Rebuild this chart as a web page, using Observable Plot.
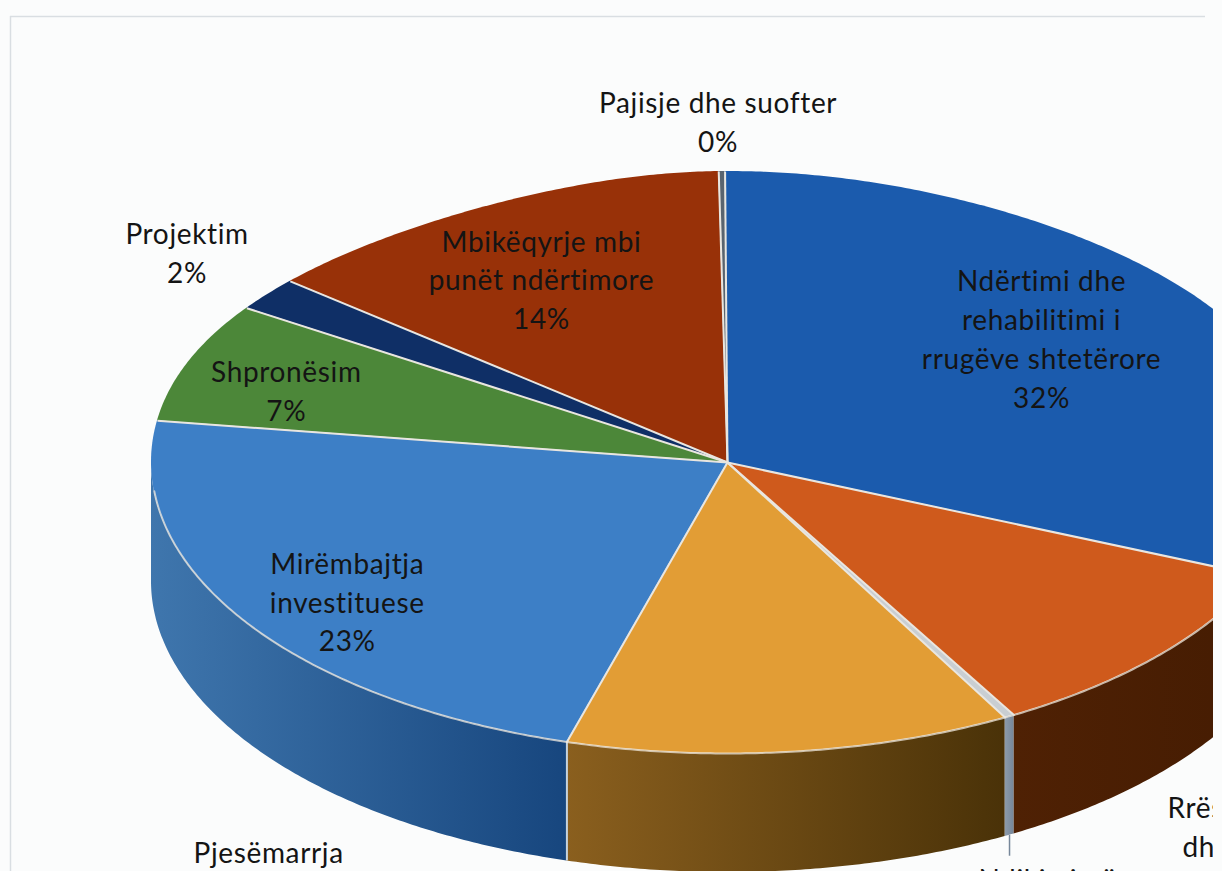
<!DOCTYPE html>
<html>
<head>
<meta charset="utf-8">
<script src="https://cdn.jsdelivr.net/npm/d3@7"></script>
<script src="https://cdn.jsdelivr.net/npm/@observablehq/plot@0.6"></script>
<style>
html,body{margin:0;padding:0;background:#fbfcfc;overflow:hidden}
svg{display:block}
</style>
</head>
<body>
<div id="chart"></div>
<script>
// Slice data, clockwise from twelve o'clock
const names = ["Ndërtimi dhe rehabilitimi i rrugëve shtetërore","Rrëshqitje","Ndikimi në","Pjesëmarrja","Mirëmbajtja investituese","Shpronësim","Projektim","Mbikëqyrje mbi punët ndërtimore","Pajisje dhe suofter"];
const shares = [31.45, 10.35, 0.28, 12.5, 22.8, 6.6, 1.8, 14, 0.22];
const topColors = ["#1b5bad","#cf5a1c","#c9ced2","#e29d35","#3d7fc6","#4c8739","#0f2f66","#983108","#59646f"];
const wallLeft  = ["#1b4a8c","#4f2104","#8d9bab","#8a5f1e","#3f76ad","#35602a","#0b214a","#6a2306","#6f7d8c"];
const wallRight = ["#1b4a8c","#451c02","#76879a","#4a3208","#17467e","#35602a","#0b214a","#6a2306","#6f7d8c"];

// Text labels
const labelLines = ["Ndërtimi dhe\nrehabilitimi i\nrrugëve shtetërore\n32%","Mbikëqyrje mbi\npunët ndërtimore\n14%","Shpronësim\n7%","Mirëmbajtja\ninvestituese\n23%","Projektim\n2%","Pajisje dhe suofter\n0%"];
// polar placement: degrees clockwise from top, radius as fraction of the pie
const labelAngle = [52.2, 332.7, 287.7, 233.9, 307.4, 359.2];
const labelRadius = [0.69, 0.704, 0.804, 0.817, 1.181, 1.168];
const cutMiddleLabels = ["Pjesëmarrja"];
const cutStartLabels = ["Rrës","dh","Ndikimi në"];
const cutStartDx = [440, 455, 251];
const cutStartDy = [347, 386, 419];

// Pie geometry, in the plot's own units
const W = 1222, H = 871, cropX = 1213;
const pie = {cx: 727, cy: 462, rx: 576, ry: 291, depth: 119, start: -0.3, farLeft: 0.2, farRight: 0.1};
const polar = (deg, r = 1) => {
  const t = deg * Math.PI / 180;
  return [pie.cx + pie.rx * r * Math.sin(t), pie.cy - pie.ry * r * Math.cos(t)];
};
// The far half of the disc recedes, so its rim pulls in a little
const rim = deg => {
  const t = deg * Math.PI / 180, s = Math.sin(t), c = Math.cos(t);
  const f = c > 0 ? 1 - (s < 0 ? pie.farLeft : pie.farRight) * c ** 4 : 1;
  return [pie.cx + pie.rx * s * f, pie.cy - pie.ry * c];
};

const total = d3.sum(shares);
let acc = 0;
const slices = shares.map((v, i) => {
  const a0 = pie.start + acc / total * 360; acc += v;
  return {i, name: names[i], a0, a1: pie.start + acc / total * 360};
});

// Top faces: each is an area swept from the centre to the rim
const topPts = slices.flatMap(s => {
  const n = Math.max(2, Math.ceil((s.a1 - s.a0) / 0.5));
  return d3.range(n + 1).map(k => {
    const [x, y] = rim(s.a0 + (s.a1 - s.a0) * k / n);
    return {slice: s.i, x, y};
  });
});

// Visible wall of each slice
const wallPts = slices.flatMap(s => {
  const a0 = Math.max(s.a0, 90), a1 = Math.min(s.a1, 270);
  if (a1 <= a0) return [];
  const n = Math.max(2, Math.ceil((a1 - a0) / 0.5));
  return d3.range(n + 1).map(k => {
    const [x, y] = polar(a0 + (a1 - a0) * k / n);
    return {slice: s.i, x, y, y2: y + pie.depth};
  });
});
const wallSlices = slices.filter(s => wallPts.some(p => p.slice === s.i));

// Horizontal shading of the walls
function wallGradients() {
  const g = d3.create("svg:g");
  const defs = g.append("defs");
  wallSlices.forEach(s => {
    const lg = defs.append("linearGradient").attr("id", "wall" + s.i).attr("x1", 0).attr("x2", 1).attr("y1", 0).attr("y2", 0);
    lg.append("stop").attr("offset", 0).attr("stop-color", wallLeft[s.i]);
    lg.append("stop").attr("offset", 1).attr("stop-color", wallRight[s.i]);
  });
  return g.node();
}

// Edges on the wall between neighbouring slices
const seams = slices.map(s => s.a1).filter(a => a > 180 && a < 270).map(a => {
  const [x, y] = polar(a);
  return {x, y, y2: y + pie.depth};
});

// Thin slice's leader line
const thin = slices[2];
const [leadX, leadY] = polar((thin.a0 + thin.a1) / 2);

const labels = labelLines.map((t, i) => {
  const [x, y] = polar(labelAngle[i], labelRadius[i]);
  return {t, x, y};
});
const cutMiddle = cutMiddleLabels.map(t => {
  const [x, y] = polar(210.6, 1.565);
  return {t, x, y};
});
const cutStart = cutStartLabels.map((t, i) => ({t, x: pie.cx + cutStartDx[i], y: pie.cy + cutStartDy[i]}));

const font = "Lato, 'Noto Sans', sans-serif";
const textStyle = {text: "t", fontSize: 28, fill: "#141414", fontFamily: font};

const chart = Plot.plot({
  width: W, height: H,
  margin: 0,
  x: {domain: [0, W], range: [0, W], axis: null},
  y: {domain: [0, H], range: [0, H], axis: null},
  style: {background: "#fbfcfc", letterSpacing: "0.65px"},
  marks: [
    wallGradients,
    Plot.ruleX([10], {y1: 16, y2: H, stroke: "#d9dee2", strokeWidth: 1.5}),
    Plot.ruleY([16], {x1: 10, x2: 1205, stroke: "#d9dee2", strokeWidth: 1.5}),
    // wall
    ...wallSlices.map(s => Plot.area(wallPts.filter(p => p.slice === s.i),
      {x1: "x", y1: "y", x2: "x", y2: "y2", fill: `url(#wall${s.i})`})),
    Plot.ruleX(seams, {x: "x", y1: "y", y2: "y2", stroke: "#c6d3de", strokeWidth: 2}),
    Plot.ruleX([leadX], {y1: leadY + pie.depth, y2: leadY + pie.depth + 21, stroke: "#76879a", strokeWidth: 1.5}),
    // top faces
    Plot.area(topPts, {x1: pie.cx, y1: pie.cy, x2: "x", y2: "y", z: "slice", fill: d => topColors[d.slice]}),
    Plot.line(topPts, {x: "x", y: "y", z: "slice", stroke: "#f0e9df", strokeWidth: 2, strokeOpacity: 0.75,
      filter: d => d.y > pie.cy + 28}),
    Plot.link(slices, {
      x1: pie.cx, y1: pie.cy,
      x2: d => rim(d.a1)[0], y2: d => rim(d.a1)[1],
      stroke: "#e9e6e0", strokeWidth: 2
    }),
    // text
    Plot.text(labels, {...textStyle, x: "x", y: "y", lineHeight: 1.39, dy: -2.5}),
    Plot.text(cutMiddle, {...textStyle, x: "x", y: "y"}),
    Plot.text(cutStart, {...textStyle, x: "x", y: "y", textAnchor: "start"}),
    // the page is cropped at the right
    Plot.rect([0], {x1: cropX, x2: W, y1: 0, y2: H, fill: "#fbfcfc"})
  ]
});
document.getElementById("chart").append(chart);
</script>
</body>
</html>
